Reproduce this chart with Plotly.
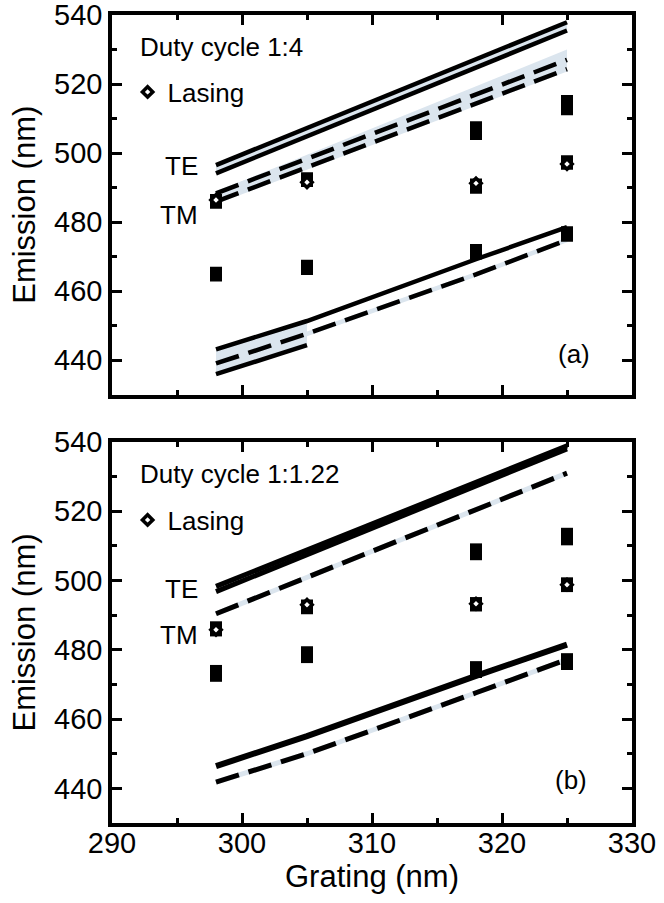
import plotly.graph_objects as go

# ---------------- data ----------------
grating = [298, 305, 318, 325]
grating_ends = [298, 325]
grating_short = [298, 305]

# panel (a) duty cycle 1:4
a_te_hi1 = [496.5, 537.9]
a_te_hi2 = [494.1, 535.5]
a_tm_hi1 = [488.3, 527.0]
a_tm_hi2 = [485.9, 524.3]
a_tm_band_top = [488.8, 530.0]
a_tm_band_bot = [485.5, 524.0]
a_te_lo1 = [443.1, 451.3, 469.2, 478.5]
a_te_lo2 = [435.9, 444.3]
a_tm_lo = [439.0, 447.6, 464.8, 474.8]

a_sq_x = [298, 298, 298, 298, 305, 305, 305, 305,
          318, 318, 318, 318, 318, 318, 325, 325, 325, 325, 325, 325]
a_sq_y = [464.5, 465.3, 485.6, 486.4, 466.4, 467.3, 491.9, 492.7,
          470.9, 471.9, 489.9, 490.9, 505.5, 507.5, 476.0, 477.0, 496.9, 497.6, 512.7, 515.1]
a_lasing = [486.4, 491.5, 491.2, 496.8]

# panel (b) duty cycle 1:1.22
b_te_hi1 = [498.3, 538.9]
b_te_hi2 = [496.8, 538.0]
b_tm_hi = [490.4, 531.0]
b_te_lo = [446.4, 455.1, 472.5, 481.5]
b_tm_lo = [441.8, 450.0, 467.6, 477.2]

b_sq_x = a_sq_x
b_sq_y = [472.5, 473.9, 485.6, 486.5, 477.9, 479.3, 492.0, 492.8,
          473.6, 475.0, 492.8, 493.5, 507.6, 509.0, 475.9, 477.3, 498.4, 499.2, 511.9, 513.5]
b_lasing = [485.8, 493.0, 493.3, 498.8]

x_ticks = [290, 300, 310, 320, 330]
y_ticks = [440, 460, 480, 500, 520, 540]

BLUE = "#dbe5ee"
FONT = "Liberation Sans, Arial, sans-serif"

fig = go.Figure()


def band(xs, lo, hi, xa, ya):
    fig.add_trace(go.Scatter(x=list(xs) + list(xs)[::-1], y=list(lo) + list(hi)[::-1],
                             fill="toself", fillcolor=BLUE, line=dict(width=0),
                             mode="lines", hoverinfo="skip", showlegend=False,
                             xaxis=xa, yaxis=ya))


def line(xs, ys, xa, ya, dash=None, width=4.5, color="black"):
    fig.add_trace(go.Scatter(x=xs, y=ys, mode="lines",
                             line=dict(color=color, width=width, dash=dash or "solid"),
                             hoverinfo="skip", showlegend=False, xaxis=xa, yaxis=ya))


DASH = "24px,10px"

# ---- panel (a): axes x, y
band(grating_ends, a_te_hi2, a_te_hi1, "x", "y")
band(grating_ends, a_tm_band_bot, a_tm_band_top, "x", "y")
band(grating_short, a_te_lo2, a_te_lo1[:2], "x", "y")
line(grating_ends, a_tm_hi1, "x", "y", width=4.5, color=BLUE)
line(grating_ends, a_tm_hi2, "x", "y", width=4.5, color=BLUE)
line(grating, a_tm_lo, "x", "y", width=4.5, color=BLUE)
line(grating_ends, a_te_hi1, "x", "y")
line(grating_ends, a_te_hi2, "x", "y")
line(grating_ends, a_tm_hi1, "x", "y", dash=DASH)
line(grating_ends, a_tm_hi2, "x", "y", dash=DASH)
line(grating, a_te_lo1, "x", "y")
line(grating_short, a_te_lo2, "x", "y")
line(grating, a_tm_lo, "x", "y", dash=DASH)

# ---- panel (b): axes x2, y2
line(grating_ends, b_tm_hi, "x2", "y2", width=5, color=BLUE)
line(grating, b_tm_lo, "x2", "y2", width=5, color=BLUE)
line(grating_ends, b_te_hi1, "x2", "y2", width=5)
line(grating_ends, b_te_hi2, "x2", "y2", width=5)
line(grating_ends, b_tm_hi, "x2", "y2", dash=DASH, width=5)
line(grating, b_te_lo, "x2", "y2", width=6)
line(grating, b_tm_lo, "x2", "y2", dash=DASH, width=5)

# markers
for sx, sy, las, xa, ya, lg in [(a_sq_x, a_sq_y, a_lasing, "x", "y", "legend"),
                                 (b_sq_x, b_sq_y, b_lasing, "x2", "y2", "legend2")]:
    fig.add_trace(go.Scatter(x=sx, y=sy, mode="markers",
                             marker=dict(symbol="square", size=12, color="black"),
                             showlegend=False, xaxis=xa, yaxis=ya))
    fig.add_trace(go.Scatter(x=grating, y=las, mode="markers", name="Lasing",
                             marker=dict(symbol="diamond", size=8, color="white",
                                         line=dict(color="black", width=3.5)),
                             showlegend=True, legend=lg, xaxis=xa, yaxis=ya))

ax_common = dict(range=[290, 330], tickvals=x_ticks, ticks="inside", ticklen=10, tickwidth=3,
                 tickcolor="black", showline=True, linewidth=3.5, linecolor="black",
                 mirror="allticks", showgrid=False, zeroline=False, automargin=False,
                 tickfont=dict(size=29), ticklabelstandoff=-9, ticklabeloverflow="allow",
                 minor=dict(ticks="inside", ticklen=5, tickwidth=3, tickcolor="black", dtick=5, tick0=290))
ay_common = dict(range=[430, 540], tickvals=y_ticks, ticks="inside", ticklen=10, tickwidth=3,
                 tickcolor="black", showline=True, linewidth=3.5, linecolor="black",
                 mirror="allticks", showgrid=False, zeroline=False, automargin=False,
                 tickfont=dict(size=29), ticklabeloverflow="allow",
                 minor=dict(ticks="inside", ticklen=5, tickwidth=3, tickcolor="black", dtick=10, tick0=430),
                 title=dict(text="Emission (nm)", standoff=10))

W, H = 664, 903
ml, mr, mt, mb = 112, 32, 15, 80
ph = H - mt - mb
top_lo = (H - mb - 394.5) / ph
bot_hi = (H - mb - 442) / ph

fig.update_layout(
    width=W, height=H, margin=dict(l=ml, r=mr, t=mt, b=mb, autoexpand=False),
    paper_bgcolor="white", plot_bgcolor="white",
    font=dict(family=FONT, size=26, color="black"),
    xaxis=dict(ax_common, anchor="y", showticklabels=False),
    yaxis=dict(ay_common, anchor="x", domain=[top_lo, 1]),
    xaxis2=dict(ax_common, anchor="y2", title=dict(text="Grating (nm)", standoff=8)),
    yaxis2=dict(ay_common, anchor="x2", domain=[0, bot_hi]),
    legend=dict(x=0.03, y=(H - mb - 92) / ph, xanchor="left", yanchor="middle",
                bgcolor="rgba(0,0,0,0)", font=dict(size=26), itemwidth=30),
    legend2=dict(x=0.03, y=(H - mb - 520) / ph, xanchor="left", yanchor="middle",
                 bgcolor="rgba(0,0,0,0)", font=dict(size=26), itemwidth=30),
    showlegend=True,
)

ann = [
    ("Duty cycle 1:4", 292.0, 530.7, "x", "y", "left"),
    ("TE", 296.8, 496.2, "x", "y", "right"),
    ("TM", 296.8, 482.0, "x", "y", "right"),
    ("(a)", 325.5, 441.7, "x", "y", "center"),
    ("Duty cycle 1:1.22", 292.0, 530.8, "x2", "y2", "left"),
    ("TE", 296.8, 497.6, "x2", "y2", "right"),
    ("TM", 296.8, 484.4, "x2", "y2", "right"),
    ("(b)", 325.3, 442.3, "x2", "y2", "center"),
]
for t, x, y, xr, yr, xa in ann:
    fig.add_annotation(text=t, x=x, y=y, xref=xr, yref=yr, xanchor=xa, yanchor="middle",
                       showarrow=False, font=dict(size=26))

fig.write_html("out.html")
